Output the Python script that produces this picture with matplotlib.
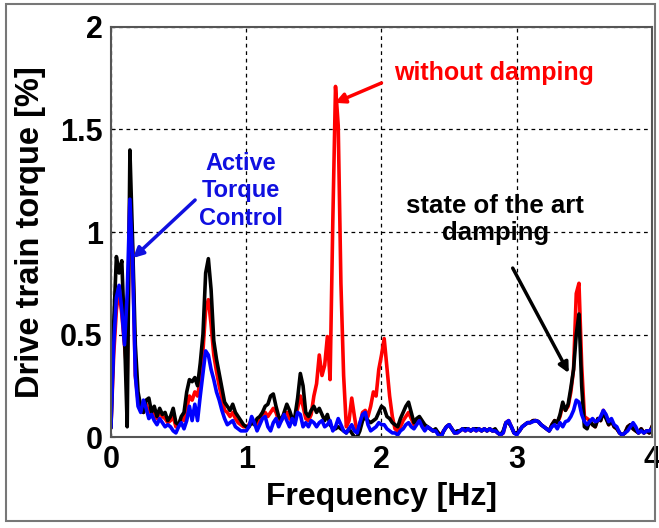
import numpy as np
import matplotlib
matplotlib.use("Agg")
import matplotlib.pyplot as plt
from matplotlib.patches import Rectangle

# frequency axis of the spectrum [Hz], 0.02 Hz spacing
freq = np.linspace(0, 4, 201)

# without damping (red)
no_damping = [
    0.05, 0.40, 0.62, 0.72, 0.60, 0.45, 0.30, 1.20, 0.90, 0.30,
    0.18, 0.15, 0.12, 0.16, 0.12, 0.14, 0.10, 0.09, 0.12, 0.10,
    0.09, 0.07, 0.08, 0.10, 0.05, 0.06, 0.09, 0.08, 0.14, 0.20,
    0.18, 0.22, 0.20, 0.28, 0.42, 0.62, 0.67, 0.55, 0.40, 0.32,
    0.25, 0.19, 0.13, 0.12, 0.10, 0.12, 0.09, 0.07, 0.06, 0.05,
    0.05, 0.06, 0.08, 0.07, 0.06, 0.08, 0.10, 0.12, 0.10, 0.12,
    0.14, 0.12, 0.08, 0.09, 0.11, 0.12, 0.09, 0.08, 0.09, 0.14,
    0.20, 0.15, 0.09, 0.08, 0.11, 0.20, 0.26, 0.40, 0.30, 0.35,
    0.49, 0.28, 1.05, 1.71, 1.52, 0.75, 0.30, 0.05, 0.08, 0.19,
    0.10, 0.02, 0.06, 0.12, 0.13, 0.10, 0.15, 0.22, 0.20, 0.33,
    0.40, 0.48, 0.34, 0.20, 0.10, 0.04, 0.03, 0.05, 0.08, 0.10,
    0.12, 0.09, 0.06, 0.08, 0.09, 0.07, 0.05, 0.05, 0.04, 0.03,
    0.03, 0.02, 0.01, 0.03, 0.05, 0.06, 0.04, 0.02, 0.02, 0.03,
    0.04, 0.03, 0.04, 0.03, 0.04, 0.03, 0.04, 0.03, 0.04, 0.03,
    0.04, 0.03, 0.03, 0.02, 0.01, 0.02, 0.07, 0.08, 0.05, 0.02,
    0.02, 0.03, 0.05, 0.06, 0.07, 0.07, 0.08, 0.08, 0.075, 0.06,
    0.05, 0.04, 0.03, 0.06, 0.08, 0.07, 0.10, 0.16, 0.13, 0.15,
    0.22, 0.33, 0.70, 0.75, 0.35, 0.10, 0.09, 0.08, 0.06, 0.05,
    0.09, 0.08, 0.13, 0.10, 0.06, 0.08, 0.05, 0.04, 0.02, 0.01,
    0.02, 0.05, 0.06, 0.04, 0.03, 0.02, 0.04, 0.02, 0.03, 0.02,
    0.05,
]

# state of the art damping (black)
state_of_art = [
    0.05, 0.55, 0.88, 0.80, 0.86, 0.50, 0.05, 1.40, 0.95, 0.45,
    0.22, 0.15, 0.12, 0.18, 0.19, 0.12, 0.15, 0.10, 0.14, 0.11,
    0.12, 0.08, 0.10, 0.14, 0.07, 0.06, 0.10, 0.12, 0.22, 0.28,
    0.27, 0.29, 0.25, 0.36, 0.50, 0.80, 0.87, 0.72, 0.47, 0.38,
    0.31, 0.24, 0.17, 0.15, 0.13, 0.16, 0.12, 0.10, 0.08, 0.06,
    0.05, 0.05, 0.07, 0.06, 0.09, 0.10, 0.12, 0.15, 0.16, 0.20,
    0.21, 0.15, 0.10, 0.08, 0.12, 0.16, 0.13, 0.09, 0.10, 0.19,
    0.31, 0.25, 0.12, 0.10, 0.13, 0.15, 0.12, 0.14, 0.11, 0.08,
    0.11, 0.06, 0.04, 0.04, 0.05, 0.04, 0.03, 0.02, 0.04, 0.02,
    0.00, 0.00, 0.03, 0.08, 0.10, 0.08, 0.07, 0.08, 0.09, 0.12,
    0.15, 0.14, 0.10, 0.09, 0.07, 0.06, 0.05, 0.09, 0.12, 0.15,
    0.17, 0.12, 0.07, 0.09, 0.10, 0.08, 0.06, 0.05, 0.04, 0.03,
    0.04, 0.02, 0.00, 0.03, 0.05, 0.06, 0.04, 0.02, 0.03, 0.03,
    0.04, 0.04, 0.04, 0.03, 0.04, 0.04, 0.04, 0.03, 0.04, 0.03,
    0.04, 0.03, 0.04, 0.02, 0.01, 0.03, 0.07, 0.07, 0.05, 0.02,
    0.02, 0.03, 0.05, 0.06, 0.07, 0.07, 0.08, 0.08, 0.075, 0.06,
    0.05, 0.04, 0.03, 0.06, 0.08, 0.07, 0.11, 0.17, 0.13, 0.16,
    0.24, 0.33, 0.50, 0.60, 0.25, 0.05, 0.04, 0.08, 0.06, 0.05,
    0.09, 0.08, 0.12, 0.09, 0.06, 0.08, 0.05, 0.04, 0.02, 0.01,
    0.02, 0.05, 0.06, 0.04, 0.03, 0.02, 0.04, 0.02, 0.03, 0.02,
    0.05,
]

# active torque control (blue)
active_control = [
    0.05, 0.45, 0.68, 0.74, 0.62, 0.45, 0.70, 1.16, 0.85, 0.30,
    0.15, 0.12, 0.18, 0.14, 0.09, 0.11, 0.08, 0.06, 0.09, 0.07,
    0.05, 0.06, 0.05, 0.03, 0.02, 0.05, 0.07, 0.04, 0.08, 0.15,
    0.08, 0.16, 0.08, 0.20, 0.31, 0.42, 0.40, 0.33, 0.28, 0.22,
    0.18, 0.13, 0.09, 0.06, 0.07, 0.08, 0.05, 0.04, 0.03, 0.03,
    0.03, 0.05, 0.10, 0.07, 0.03, 0.06, 0.09, 0.10, 0.05, 0.03,
    0.07, 0.09, 0.05, 0.08, 0.11, 0.08, 0.05, 0.09, 0.06, 0.12,
    0.11, 0.05, 0.07, 0.05, 0.08, 0.07, 0.05, 0.07, 0.08, 0.05,
    0.06, 0.08, 0.03, 0.05, 0.09, 0.06, 0.03, 0.02, 0.04, 0.06,
    0.03, 0.02, 0.07, 0.11, 0.12, 0.06, 0.03, 0.04, 0.05, 0.07,
    0.06, 0.06, 0.04, 0.03, 0.02, 0.02, 0.01, 0.03, 0.04, 0.06,
    0.07, 0.05, 0.04, 0.06, 0.08, 0.05, 0.03, 0.05, 0.04, 0.03,
    0.03, 0.01, 0.00, 0.03, 0.05, 0.06, 0.04, 0.02, 0.02, 0.03,
    0.04, 0.03, 0.04, 0.03, 0.04, 0.03, 0.04, 0.03, 0.04, 0.03,
    0.04, 0.03, 0.03, 0.02, 0.01, 0.02, 0.07, 0.08, 0.05, 0.02,
    0.01, 0.03, 0.05, 0.06, 0.07, 0.07, 0.075, 0.08, 0.075, 0.06,
    0.05, 0.04, 0.03, 0.05, 0.06, 0.04, 0.07, 0.05, 0.075, 0.08,
    0.10, 0.13, 0.18, 0.17, 0.11, 0.075, 0.06, 0.075, 0.09, 0.075,
    0.08, 0.10, 0.13, 0.11, 0.075, 0.09, 0.06, 0.05, 0.02, 0.01,
    0.02, 0.03, 0.05, 0.07, 0.05, 0.02, 0.03, 0.02, 0.03, 0.03,
    0.04,
]

x_ticks = [0, 1, 2, 3, 4]
y_ticks = [0, 0.5, 1, 1.5, 2]
y_tick_labels = ["0", "0.5", "1", "1.5", "2"]

plt.rcParams["font.family"] = ["Liberation Sans", "DejaVu Sans"]
plt.rcParams["font.weight"] = "bold"

fig = plt.figure(figsize=(6.59, 5.28), dpi=100)
ax = fig.add_axes([0.1684, 0.1723, 0.8210, 0.7766])

ax.plot(freq, no_damping, color="#ff0000", lw=2.6)
ax.plot(freq, state_of_art, color="black", lw=2.6)
ax.plot(freq, active_control, color="#0000ff", lw=2.6)

ax.set_xlim(0, 4)
ax.set_ylim(0, 2)
ax.set_xticks(x_ticks)
ax.set_yticks(y_ticks)
ax.set_yticklabels(y_tick_labels)
ax.tick_params(direction="in", length=3, labelsize=22, pad=6)
ax.grid(True, color="black", linestyle=(0, (3, 3)), linewidth=0.9)
for s in ax.spines.values():
    s.set_color("#555555")
    s.set_linewidth(1.5)

ax.set_xlabel("Frequency [Hz]", fontsize=23, fontweight="bold", labelpad=5)
ax.set_ylabel("Drive train torque [%]", fontsize=23.5, fontweight="bold", labelpad=10)

# annotation texts
ax.text(2.09, 1.775, "without damping", color="#ff0000", fontsize=18,
        fontweight="bold", va="center")
ax.text(0.96, 1.2, "Active\nTorque\nControl", color="#1010e0", fontsize=17,
        fontweight="bold", ha="center", va="center", linespacing=1.27)
ax.text(2.84, 1.06, "state of the art\ndamping", color="black", fontsize=18.5,
        fontweight="bold", ha="center", va="center", linespacing=1.16)

# arrows
arrow_kw = dict(arrowstyle="-|>", lw=2.5, mutation_scale=15, shrinkA=0, shrinkB=0)
ax.annotate("", xy=(1.655, 1.63), xytext=(2.0, 1.727),
            arrowprops=dict(color="#ff0000", **arrow_kw))
ax.annotate("", xy=(0.163, 0.873), xytext=(0.622, 1.156),
            arrowprops=dict(color="#1010e0", **arrow_kw))
ax.annotate("", xy=(3.385, 0.312), xytext=(2.97, 0.824),
            arrowprops=dict(color="black", **arrow_kw))

# outer frame around the figure
fig.patches.append(Rectangle((6 / 659, 1 - 521 / 528), 649 / 659, 517 / 528,
                             transform=fig.transFigure, fill=False,
                             edgecolor="#777777", lw=1.5))

fig.savefig("out.png", dpi=100)
